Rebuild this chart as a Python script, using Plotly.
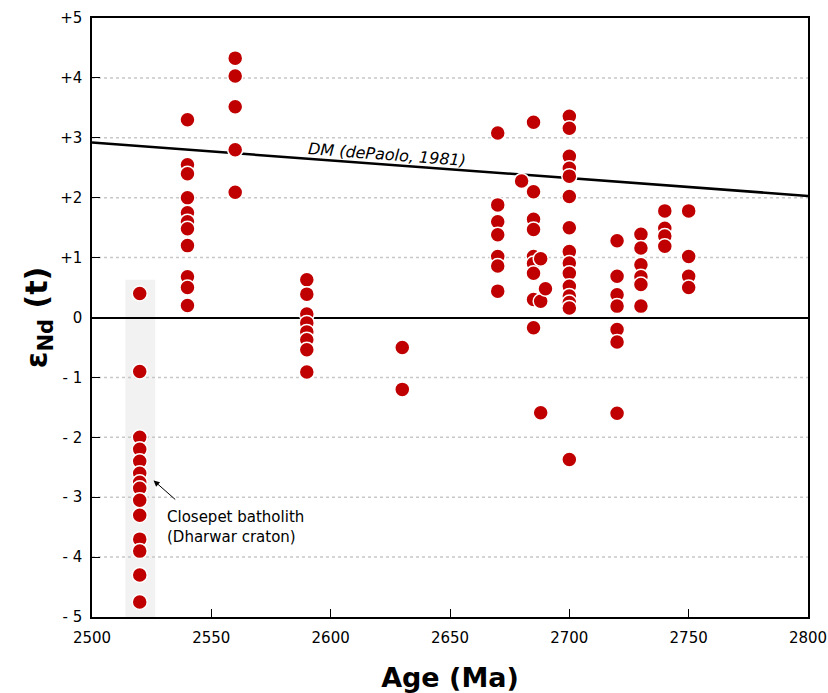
import plotly.graph_objects as go

# Nd isotope data (age in Ma, epsilon Nd at t)
ages = (
    [2520] * 14
    + [2540] * 11
    + [2560] * 5
    + [2590] * 8
    + [2630] * 2
    + [2670] * 7
    + [2680]
    + [2685] * 9
    + [2688, 2688, 2688, 2690]
    + [2700] * 15
    + [2720] * 7
    + [2730] * 6
    + [2740] * 4
    + [2750] * 4
)
eps_nd = (
    [0.4, -0.9, -2.0, -2.2, -2.4, -2.6, -2.75, -2.85, -3.05, -3.3, -3.7, -3.9, -4.3, -4.75]
    + [3.3, 2.55, 2.4, 2.0, 1.75, 1.6, 1.48, 1.2, 0.68, 0.5, 0.2]
    + [4.33, 4.03, 3.52, 2.8, 2.09]
    + [0.63, 0.39, 0.06, -0.09, -0.24, -0.37, -0.54, -0.91]
    + [-0.5, -1.2]
    + [3.08, 1.88, 1.6, 1.38, 1.02, 0.86, 0.44]
    + [2.28]
    + [3.26, 2.1, 1.64, 1.47, 1.02, 0.9, 0.74, 0.3, -0.17]
    + [0.98, 0.27, -1.59, 0.48]
    + [3.36, 3.16, 2.69, 2.49, 2.36, 2.02, 1.5, 1.1, 0.91, 0.74, 0.52, 0.36, 0.25, 0.16, -2.37]
    + [1.28, 0.69, 0.38, 0.19, -0.2, -0.41, -1.6]
    + [1.39, 1.16, 0.88, 0.68, 0.55, 0.19]
    + [1.78, 1.49, 1.36, 1.19]
    + [1.78, 1.02, 0.69, 0.5]
)

# depleted mantle curve (dePaolo, 1981)
dm_age = [2500, 2800]
dm_eps = [2.92, 2.03]

# Closepet batholith highlight
band_age = [2514, 2526.5]
band_eps = [-5, 0.63]

y_ticks = [5, 4, 3, 2, 1, 0, -1, -2, -3, -4, -5]
y_labels = ['+5', '+4', '+3', '+2', '+1', '0', '- 1', '- 2', '- 3', '- 4', '- 5']
x_ticks = [2500, 2550, 2600, 2650, 2700, 2750, 2800]

font = 'DejaVu Sans'

fig = go.Figure()

fig.add_shape(type='rect', x0=band_age[0], x1=band_age[1], y0=band_eps[0], y1=band_eps[1],
              fillcolor='#f2f2f2', line_width=0, layer='below')

# dotted grid lines
for v in y_ticks:
    if v not in (0, 5, -5):
        fig.add_shape(type='line', x0=2500, x1=2800, y0=v, y1=v, layer='below',
                      line=dict(color='#c8c8c8', width=1.5, dash='dot'))

fig.add_trace(go.Scatter(x=dm_age, y=dm_eps, mode='lines',
                         line=dict(color='black', width=2.5), showlegend=False))

fig.add_trace(go.Scatter(x=ages, y=eps_nd, mode='markers', showlegend=False,
                         marker=dict(size=15, color='#c00000',
                                     line=dict(color='white', width=1.5))))

fig.add_annotation(x=2623.5, y=2.72, text='<i>DM (dePaolo, 1981)</i>', showarrow=False,
                   textangle=4.3, font=dict(family=font, size=16, color='black'))

# arrow to the Closepet batholith samples
fig.add_annotation(x=2525.8, y=-2.72, ax=2535.5, ay=-3.06, axref='x', ayref='y',
                   text='', showarrow=True, arrowhead=2, arrowsize=1.2,
                   arrowwidth=1, arrowcolor='black')
fig.add_annotation(x=2530.5, y=-3.15, text='Closepet batholith<br>(Dharwar craton)',
                   showarrow=False, xanchor='left', yanchor='top', align='left',
                   font=dict(family=font, size=15, color='black'))

fig.update_layout(
    width=828, height=693,
    margin=dict(l=92, r=20, t=18, b=76),
    plot_bgcolor='white', paper_bgcolor='white',
    font=dict(family=font, size=15, color='black'),
    xaxis=dict(range=[2500, 2800], tickvals=x_ticks, ticks='inside', ticklen=8,
               tickcolor='black', showgrid=False, zeroline=False, automargin=False,
               ticklabelstandoff=6, ticklabeloverflow='allow',
               showline=True, linecolor='black', linewidth=1.5, mirror=True,
               title=dict(text='<b>Age (Ma)</b>', font=dict(size=27), standoff=22)),
    yaxis=dict(range=[-5, 5], tickvals=y_ticks, ticktext=y_labels, ticks='inside',
               ticklen=8, tickcolor='black', showgrid=False, automargin=False,
               ticklabelstandoff=5, ticklabeloverflow='allow',
               zeroline=True, zerolinecolor='black', zerolinewidth=2,
               showline=True, linecolor='black', linewidth=1.5, mirror=True,
               title=dict(text='<b>ε<sub>Nd</sub> (t)</b>', font=dict(size=30), standoff=4)),
)

# drop the default page margin so the figure fills the window
fig.write_html('out.html', config={'displayModeBar': False},
               post_script="document.body.style.margin='0';")
